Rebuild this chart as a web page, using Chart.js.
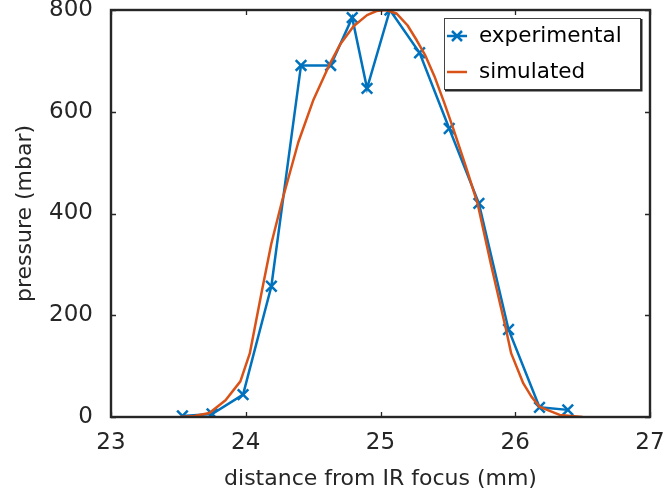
<!DOCTYPE html>
<html>
<head>
<meta charset="utf-8">
<script src="https://cdn.jsdelivr.net/npm/chart.js@4"></script>
<style>
  html, body { margin: 0; padding: 0; background: #fff; }
  #wrap { width: 665px; height: 498px; }
</style>
</head>
<body>
<div id="wrap"><canvas id="chart" width="665" height="498"></canvas></div>
<script>
// experimental measurements
const expX = [23.53, 23.75, 23.98, 24.19, 24.41, 24.63, 24.79, 24.90, 25.07, 25.29, 25.51, 25.73, 25.95, 26.18, 26.39];
const expY = [2, 6, 44, 257, 691, 691, 785, 646, 800, 716, 567, 420, 172, 19, 14];

// simulated profile
const simX = [23.51, 23.62, 23.73, 23.85, 23.96, 24.03, 24.12, 24.19, 24.27, 24.39, 24.50, 24.62, 24.70, 24.80,
              24.90, 24.97, 25.04, 25.12, 25.20, 25.27, 25.33, 25.40, 25.47, 25.54, 25.63, 25.72, 25.82, 25.93,
              25.97, 26.06, 26.12, 26.18, 26.33, 26.50];
const simY = [0, 2, 8, 33, 70, 125, 248, 341, 425, 540, 622, 692, 732, 768,
              790, 798, 800, 793, 770, 740, 712, 670, 620, 567, 495, 420, 300, 174,
              125, 66, 40, 20, 4, 0];

const xTicks = [23, 24, 25, 26, 27];
const yTicks = [0, 200, 400, 600, 800];

const BLUE = '#0072BD';
const ORANGE = '#D95319';
const AXIS = '#262626';
const FONT = 'DejaVu Sans';

const toPts = (xs, ys) => xs.map((x, i) => ({ x: x, y: ys[i] }));

// box + inward ticks + legend, matlab style
const boxPlugin = {
    id: 'box',
    afterDraw(chart) {
        const { ctx, chartArea: a, scales } = chart;
        ctx.save();
        ctx.strokeStyle = AXIS;
        ctx.lineWidth = 1.3;
        xTicks.forEach(v => {
            const px = Math.round(scales.x.getPixelForValue(v)) + 0.5;
            ctx.beginPath();
            ctx.moveTo(px, a.bottom); ctx.lineTo(px, a.bottom - 5);
            ctx.moveTo(px, a.top); ctx.lineTo(px, a.top + 5);
            ctx.stroke();
        });
        yTicks.forEach(v => {
            const py = Math.round(scales.y.getPixelForValue(v)) + 0.5;
            ctx.beginPath();
            ctx.moveTo(a.left, py); ctx.lineTo(a.left + 5, py);
            ctx.moveTo(a.right, py); ctx.lineTo(a.right - 5, py);
            ctx.stroke();
        });
        ctx.lineWidth = 2.4;
        ctx.strokeRect(a.left, a.top, a.right - a.left, a.bottom - a.top);

        // legend
        const lx = 444, ly = 18, lw = 196, lh = 71;
        ctx.fillStyle = '#fff';
        ctx.fillRect(lx, ly, lw, lh);
        ctx.lineWidth = 1;
        ctx.strokeStyle = '#444';
        ctx.strokeRect(lx + 0.5, ly + 0.5, lw, lh);
        ctx.lineWidth = 2;
        ctx.strokeStyle = AXIS;
        ctx.beginPath();
        ctx.moveTo(lx + lw + 1.5, ly + 1); ctx.lineTo(lx + lw + 1.5, ly + lh + 1.5);
        ctx.lineTo(lx + 1, ly + lh + 1.5);
        ctx.stroke();

        ctx.font = '21.5px "' + FONT + '"';
        ctx.textBaseline = 'middle';
        ctx.fillStyle = '#000';
        const r1 = ly + 18, r2 = ly + 54;
        ctx.strokeStyle = BLUE;
        ctx.lineWidth = 2.5;
        ctx.beginPath(); ctx.moveTo(lx + 3, r1); ctx.lineTo(lx + 23, r1); ctx.stroke();
        ctx.beginPath();
        ctx.moveTo(lx + 8, r1 - 5); ctx.lineTo(lx + 18, r1 + 5);
        ctx.moveTo(lx + 18, r1 - 5); ctx.lineTo(lx + 8, r1 + 5);
        ctx.stroke();
        ctx.fillText('experimental', lx + 35, r1);
        ctx.strokeStyle = ORANGE;
        ctx.beginPath(); ctx.moveTo(lx + 3, r2); ctx.lineTo(lx + 23, r2); ctx.stroke();
        ctx.fillText('simulated', lx + 35, r2);
        ctx.restore();
    }
};

new Chart(document.getElementById('chart'), {
    type: 'scatter',
    data: {
        datasets: [
            {
                label: 'simulated',
                data: toPts(simX, simY),
                showLine: true,
                borderColor: ORANGE,
                borderWidth: 2.5,
                pointRadius: 0,
                tension: 0,
                borderJoinStyle: 'round',
                order: 1
            },
            {
                label: 'experimental',
                data: toPts(expX, expY),
                showLine: true,
                borderColor: BLUE,
                backgroundColor: BLUE,
                borderWidth: 2.5,
                pointStyle: 'crossRot',
                pointRadius: 7.5,
                pointBorderWidth: 2.5,
                pointBorderColor: BLUE,
                tension: 0,
                order: 2
            }
        ]
    },
    options: {
        responsive: false,
        animation: false,
        events: [],
        layout: { padding: { top: 9, right: 15, left: 0, bottom: 0 } },
        plugins: { legend: { display: false }, tooltip: { enabled: false } },
        scales: {
            x: {
                type: 'linear',
                min: 23, max: 27,
                afterBuildTicks: s => { s.ticks = xTicks.map(v => ({ value: v })); },
                afterFit: s => { s.height = 81; s.paddingLeft = 0; s.paddingRight = 0; },
                grid: { display: false, drawTicks: false },
                border: { display: false },
                ticks: { color: AXIS, font: { family: FONT, size: 23 }, padding: 12, maxRotation: 0 },
                title: { display: true, text: 'distance from IR focus (mm)', color: AXIS,
                         font: { family: FONT, size: 22 }, padding: { top: 0, bottom: 6 } }
            },
            y: {
                min: 0, max: 800,
                afterBuildTicks: s => { s.ticks = yTicks.map(v => ({ value: v })); },
                afterFit: s => { s.width = 111; s.paddingTop = 0; s.paddingBottom = 0; },
                grid: { display: false, drawTicks: false },
                border: { display: false },
                ticks: { color: AXIS, font: { family: FONT, size: 23 }, padding: 18 },
                title: { display: true, text: 'pressure (mbar)', color: AXIS,
                         font: { family: FONT, size: 22 }, padding: { top: 12, bottom: 0 } }
            }
        }
    },
    plugins: [boxPlugin]
});
</script>
</body>
</html>
